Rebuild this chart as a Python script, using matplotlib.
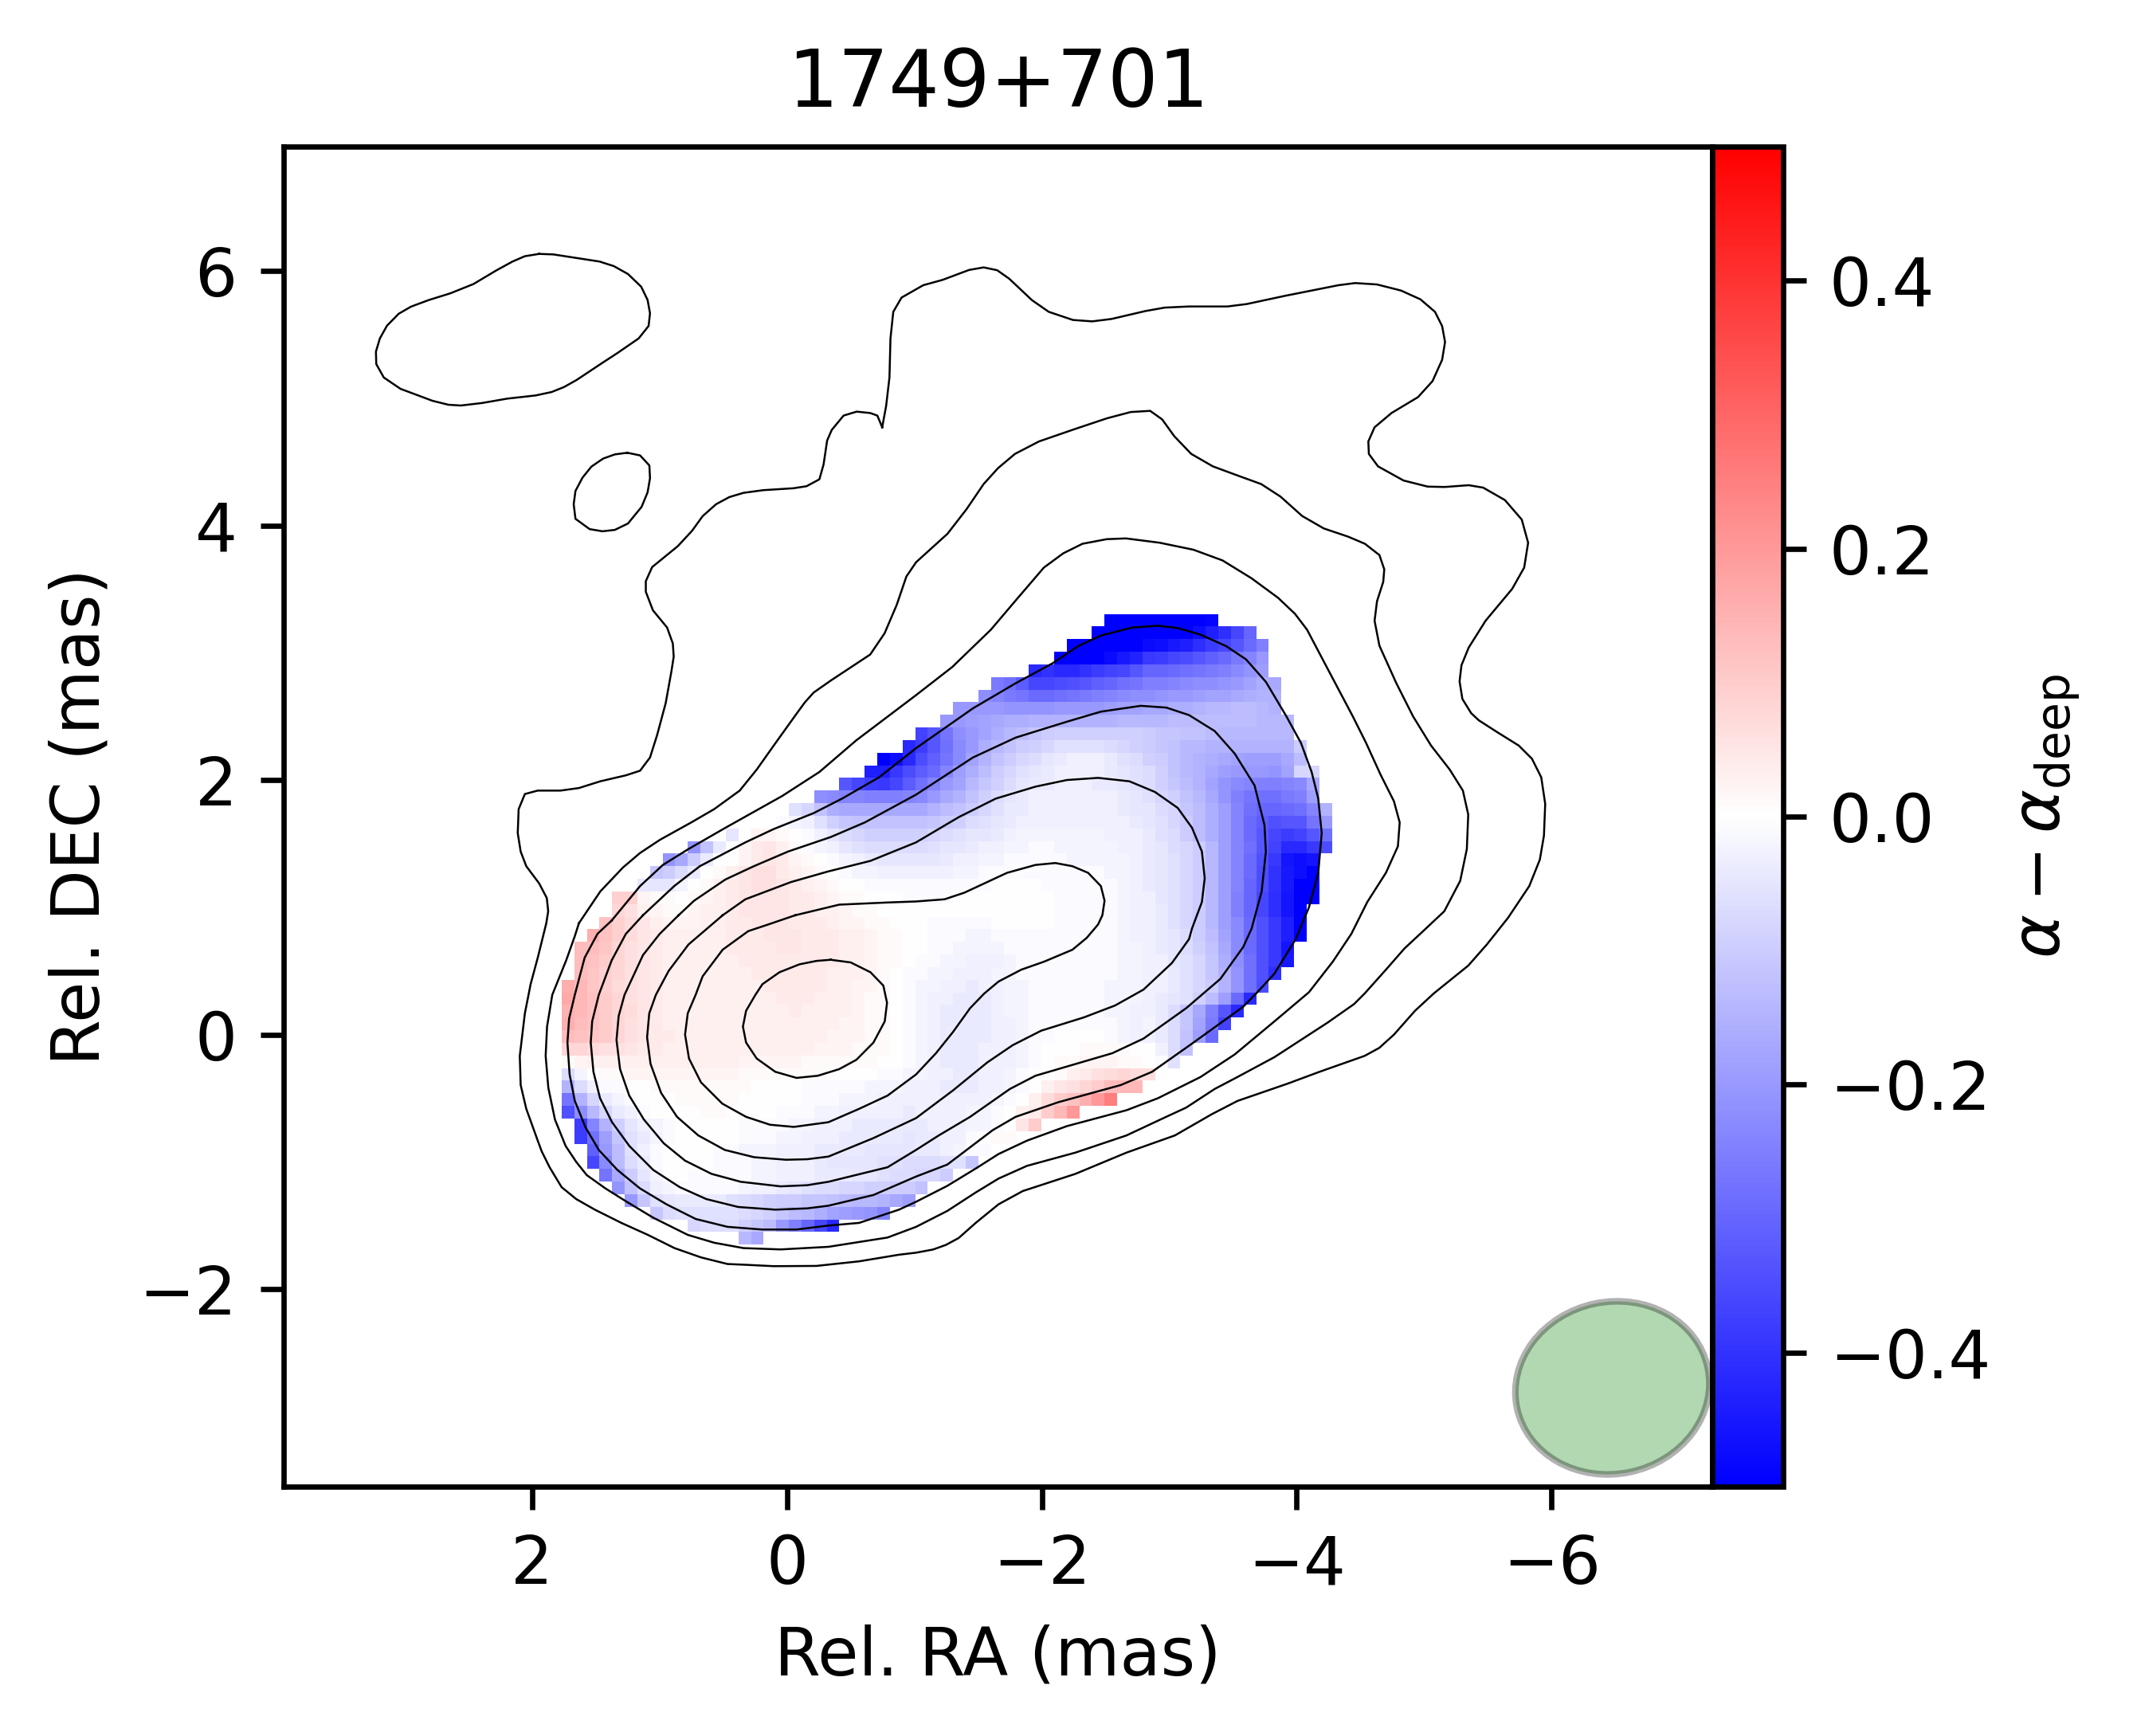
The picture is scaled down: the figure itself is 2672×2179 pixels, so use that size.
import matplotlib
matplotlib.use("Agg")
import matplotlib.pyplot as plt
import numpy as np
from matplotlib.patches import Ellipse

title = "1749+701"
x_ticks = [2, 0, -2, -4, -6]
y_ticks = [-2, 0, 2, 4, 6]
cbar_ticks = [-0.4, -0.2, 0.0, 0.2, 0.4]

# map cells, 0.0991 mas wide, first column at the left, first row on top
n_cols = 61
n_rows = 50
x_first = 1.769
y_first = 3.305
cell = 0.0991

# first column of every row
row_start = [43, 42, 40, 39, 37, 34, 33, 31, 30, 28, 27, 25, 24, 22, 20, 18, 17, 13, 10, 8,
             7, 6, 4, 4, 3, 2, 1, 1, 1, 0, 0, 0, 0, 0, 0, 0, 0, 0, 0, 0,
             1, 1, 2, 2, 3, 4, 5, 7, 10, 14]

# alpha - alpha_deep for every row, in hundredths
row_vals = [
    [-50, -50, -50, -50, -50, -50, -50, -50, -49],
    [-50, -50, -50, -50, -50, -50, -50, -50, -47, -44, -41, -36, -30],
    [-50, -50, -50, -50, -50, -50, -48, -47, -45, -44, -41, -38, -36, -33, -29, -25],
    [-50, -50, -50, -50, -48, -45, -43, -39, -38, -36, -35, -33, -31, -29, -26, -24, -20],
    [-42, -40, -42, -42, -40, -38, -37, -36, -33, -30, -30, -29, -28, -27, -26, -25, -23, -21, -19],
    [-26, -28, -32, -36, -36, -35, -34, -33, -31, -30, -28, -27, -25, -25, -24, -23, -22, -22, -21, -20, -18, -16, -17],
    [-22, -24, -26, -27, -29, -29, -28, -27, -26, -25, -24, -23, -22, -22, -21, -20, -20, -19, -18, -18, -17, -16, -15, -15],
    [-20, -20, -20, -20, -21, -21, -21, -21, -20, -20, -20, -20, -19, -18, -18, -17, -17, -16, -16, -15, -14, -14, -13, -13, -14, -15],
    [-20, -20, -19, -18, -17, -16, -16, -15, -15, -15, -15, -15, -15, -15, -14, -14, -14, -14, -13, -13, -13, -13, -13, -13, -13, -14, -14, -14],
    [-37, -33, -27, -22, -20, -18, -16, -14, -13, -11, -10, -9, -9, -9, -9, -9, -9, -9, -10, -11, -11, -12, -12, -13, -14, -14, -14, -14, -14, -14],
    [-42, -38, -33, -28, -23, -20, -16, -14, -12, -10, -9, -8, -6, -6, -6, -6, -7, -8, -9, -10, -11, -12, -14, -14, -15, -15, -15, -15, -15, -15, -15, -10],
    [-50, -47, -42, -35, -31, -27, -23, -18, -15, -12, -10, -8, -7, -5, -4, -3, -3, -3, -4, -6, -7, -9, -10, -12, -14, -15, -16, -17, -18, -19, -19, -19, -17, -13],
    [-44, -44, -39, -35, -32, -29, -24, -19, -16, -13, -10, -8, -6, -5, -4, -3, -3, -3, -3, -4, -5, -6, -7, -9, -12, -14, -15, -17, -19, -20, -20, -20, -21, -18, -8, -8],
    [-33, -36, -38, -39, -36, -32, -28, -24, -20, -18, -14, -11, -9, -7, -5, -4, -4, -3, -3, -3, -4, -4, -5, -6, -7, -9, -11, -13, -15, -18, -21, -23, -24, -25, -25, -24, -23, -17],
    [-22, -23, -24, -24, -25, -25, -25, -24, -23, -20, -17, -15, -12, -9, -7, -5, -4, -3, -3, -3, -3, -3, -3, -3, -4, -5, -6, -8, -9, -12, -14, -17, -21, -25, -27, -28, -28, -26, -25, -19],
    [-6, -8, -12, -16, -17, -17, -17, -17, -17, -17, -17, -15, -13, -12, -10, -8, -6, -4, -4, -3, -3, -3, -3, -3, -3, -3, -4, -5, -5, -7, -8, -11, -13, -16, -19, -24, -28, -30, -30, -29, -28, -24, -15],
    [-1, -2, -3, -6, -9, -11, -12, -12, -12, -12, -12, -12, -11, -10, -9, -7, -6, -5, -4, -3, -3, -3, -3, -3, -3, -3, -3, -3, -4, -5, -6, -8, -10, -13, -16, -19, -24, -29, -32, -34, -33, -33, -27, -20],
    [-5, 0, 2, 2, 1, 0, -1, -3, -5, -7, -8, -9, -9, -9, -9, -9, -8, -7, -6, -5, -5, -4, -3, -2, -2, -2, -2, -2, -2, -2, -3, -3, -3, -4, -6, -7, -10, -13, -16, -19, -24, -29, -33, -36, -38, -37, -33, -28],
    [-21, -12, -4, 0, 2, 4, 5, 3, 1, -1, -2, -3, -5, -6, -7, -7, -7, -7, -7, -6, -5, -5, -4, -3, -3, -2, -2, -1, -1, -2, -2, -2, -2, -2, -3, -3, -4, -5, -7, -8, -10, -14, -19, -24, -28, -33, -37, -42, -42, -39, -35],
    [-21, -17, -10, -4, 0, 0, 2, 4, 5, 4, 2, 1, 0, -1, -2, -3, -4, -5, -5, -5, -5, -5, -4, -3, -3, -2, -2, -1, -1, -1, -1, -1, -2, -2, -2, -2, -2, -3, -4, -5, -6, -8, -10, -14, -19, -24, -29, -34, -39, -46, -47, -46],
    [-11, -10, -7, -4, 0, 1, 3, 5, 6, 6, 4, 3, 2, 1, 0, -1, -2, -2, -3, -3, -3, -3, -3, -3, -2, -2, -1, -1, -1, -1, -1, -1, -1, -1, -1, -1, -2, -2, -3, -4, -5, -6, -8, -10, -14, -19, -24, -29, -35, -40, -45, -47, -50],
    [-5, -5, -5, -2, 0, 1, 3, 4, 5, 6, 6, 5, 4, 3, 2, 1, 0, 0, -1, -1, -1, -1, -1, -1, -1, -1, -1, -1, 0, 0, 0, 0, -1, -1, -1, -1, -1, -1, -2, -3, -4, -5, -6, -8, -10, -14, -19, -24, -30, -35, -40, -45, -50, -50],
    [9, 9, 2, 1, 1, 0, 1, 2, 3, 4, 5, 5, 5, 5, 4, 4, 3, 2, 1, 1, 0, 0, 0, -1, -1, -1, -1, 0, 0, 0, 0, 0, 0, 0, 0, -1, -1, -1, -1, -1, -2, -3, -3, -5, -6, -8, -10, -14, -19, -25, -30, -36, -41, -46, -50, -50],
    [8, 6, 3, 2, 1, 1, 2, 3, 3, 4, 5, 5, 5, 5, 4, 4, 3, 3, 2, 1, 1, 0, 0, 0, 0, 0, 0, 0, 0, 0, 0, 0, 0, 0, 0, -1, -1, -1, -1, -1, -2, -3, -3, -4, -6, -8, -10, -14, -19, -25, -30, -36, -41, -46, -50],
    [12, 9, 7, 5, 3, 2, 2, 2, 3, 3, 4, 4, 5, 5, 5, 4, 4, 4, 3, 2, 2, 1, 1, 0, 0, 0, -1, -1, -1, -1, -1, 0, 0, 0, 0, 0, -1, -1, -1, -1, -1, -2, -3, -3, -4, -6, -8, -10, -14, -19, -23, -29, -34, -39, -44, -50],
    [16, 12, 9, 7, 5, 4, 3, 3, 3, 3, 3, 4, 4, 4, 5, 5, 5, 4, 4, 4, 3, 3, 2, 1, 1, 0, 0, -1, -1, -1, -2, -2, -1, -1, -1, -1, -1, -1, -1, -1, -1, -1, -2, -3, -3, -4, -5, -7, -10, -13, -18, -23, -29, -34, -39, -44, -50],
    [13, 13, 11, 8, 6, 5, 4, 3, 3, 3, 3, 3, 4, 4, 4, 4, 5, 5, 4, 4, 4, 3, 3, 2, 1, 1, 0, 0, -1, -1, -2, -2, -2, -2, -1, -1, -1, -1, -1, -1, -1, -1, -1, -2, -2, -3, -4, -5, -7, -9, -12, -17, -23, -29, -34, -39, -46],
    [13, 12, 10, 8, 6, 5, 4, 3, 3, 3, 3, 3, 3, 4, 4, 4, 4, 4, 4, 4, 4, 3, 3, 2, 1, 1, 0, -1, -1, -2, -2, -3, -3, -3, -2, -1, -1, -1, -1, -1, -1, -1, -1, -2, -2, -3, -3, -5, -6, -8, -11, -16, -22, -28, -34, -39, -45],
    [13, 11, 9, 8, 6, 5, 4, 3, 3, 3, 3, 3, 3, 3, 4, 4, 4, 4, 4, 4, 3, 3, 3, 2, 1, 0, -1, -1, -2, -2, -3, -3, -3, -2, -2, -1, -1, -1, -1, -1, -1, -1, -1, -2, -2, -3, -3, -4, -6, -8, -11, -15, -21, -28, -34, -41],
    [16, 14, 11, 9, 7, 6, 5, 4, 3, 3, 3, 3, 3, 3, 3, 3, 4, 4, 4, 4, 4, 3, 3, 2, 2, 1, 0, -1, -2, -2, -3, -3, -4, -3, -3, -2, -2, -1, -1, -1, -1, -1, -1, -2, -2, -2, -3, -3, -4, -6, -8, -10, -15, -21, -28, -35],
    [17, 14, 12, 10, 8, 6, 5, 4, 3, 3, 3, 3, 3, 3, 3, 3, 3, 4, 4, 4, 3, 3, 3, 2, 1, 1, 0, -1, -2, -3, -3, -4, -4, -4, -3, -2, -2, -1, -1, -1, -1, -1, -1, -2, -2, -2, -3, -4, -5, -6, -9, -13, -19, -29, -42],
    [15, 14, 12, 10, 8, 7, 5, 4, 3, 3, 3, 3, 3, 3, 3, 3, 3, 3, 4, 3, 3, 3, 3, 2, 1, 1, 0, -1, -2, -3, -4, -4, -4, -4, -3, -2, -2, -1, -1, -1, -1, -1, -1, -2, -2, -3, -3, -4, -7, -11, -17, -25, -33, -42],
    [16, 13, 12, 10, 8, 6, 5, 4, 3, 3, 3, 3, 3, 3, 3, 3, 3, 3, 3, 3, 3, 3, 2, 2, 1, 1, 0, -1, -2, -3, -4, -4, -4, -4, -3, -3, -2, -1, -1, -1, -1, -1, -1, -1, -2, -3, -2, -4, -7, -11, -18, -26, -37],
    [13, 12, 11, 10, 8, 6, 5, 4, 4, 3, 3, 3, 3, 3, 3, 3, 3, 3, 3, 3, 3, 2, 2, 2, 1, 1, 0, -1, -2, -3, -4, -4, -4, -4, -3, -3, -2, -1, -1, 0, 0, 0, 0, -1, -2, -3, -3, -4, -7, -12, -19, -29],
    [8, 8, 7, 6, 6, 5, 4, 4, 3, 3, 3, 3, 3, 3, 3, 3, 3, 3, 3, 3, 2, 2, 2, 1, 1, 1, 0, -1, -2, -3, -4, -4, -4, -3, -3, -3, -2, -1, 0, 0, 0, 1, 1, 1, 1, 0, 0, -3, -7, -12],
    [1, 2, 3, 3, 3, 3, 3, 3, 3, 3, 3, 3, 3, 3, 2, 2, 2, 2, 2, 1, 1, 1, 1, 1, 1, 0, 0, -1, -2, -3, -4, -4, -4, -3, -3, -3, -2, -1, 0, 1, 1, 2, 2, 2, 1, 1, 0, -1, -6],
    [-7, -2, 0, 1, 1, 2, 2, 2, 2, 2, 2, 2, 2, 2, 1, 1, 1, 1, 1, 1, 1, 0, 0, 0, 0, -1, -1, -2, -2, -3, -3, -4, -4, -3, -3, -2, -1, 0, 0, 1, 3, 4, 6, 7, 8, 7, 7, 0],
    [-15, -7, -3, -1, -1, 0, 0, 1, 1, 1, 1, 1, 1, 1, 1, 0, 0, 0, 0, -1, -1, -1, -1, -1, -2, -2, -2, -3, -3, -3, -4, -4, -4, -3, -3, -2, -1, 0, 3, 5, 6, 8, 10, 13, 14, 14],
    [-27, -15, -8, -4, -2, -1, 0, 0, 0, 1, 1, 1, 1, 1, 0, 0, 0, 0, 0, -1, -1, -1, -2, -2, -2, -3, -3, -3, -3, -3, -3, -3, -3, -3, -2, -1, 0, 3, 7, 10, 12, 16, 20, 25],
    [-34, -22, -14, -8, -4, -3, -1, 0, 0, 0, 0, 1, 1, 0, 0, 0, 0, -1, -1, -1, -2, -2, -3, -3, -3, -3, -3, -4, -3, -3, -3, -3, -2, -2, -1, 0, 3, 4, 10, 14, 20],
    [-38, -24, -15, -9, -5, -3, -2, -1, 0, 0, 0, 0, 0, -1, -1, -1, -1, -2, -2, -3, -3, -3, -4, -4, -4, -4, -4, -4, -3, -3, -3, -2, -2, -1, 0, 5, 10],
    [-38, -28, -19, -11, -6, -4, -2, -1, 0, 0, 0, 0, 0, -1, -1, -1, -2, -2, -3, -3, -3, -4, -4, -4, -4, -4, -5, -4, -4, -3, -3, -1, 0, 1, 1],
    [-31, -20, -13, -6, -3, -1, 0, 0, 0, 0, -1, -1, -2, -2, -2, -3, -3, -3, -4, -4, -4, -4, -5, -5, -5, -5, -4, -4, -3, -2, -1, -1],
    [-36, -23, -13, -7, -4, -1, 0, 0, 0, 0, -1, -1, -1, -2, -2, -3, -3, -3, -4, -5, -5, -5, -5, -6, -6, -7, -7, -7, -6, -6, -11],
    [-27, -17, -10, -5, -2, 0, 0, -1, -1, -1, -1, -1, -2, -2, -3, -3, -3, -4, -4, -4, -5, -5, -6, -7, -7, -8, -8, -10],
    [-21, -12, -7, -3, -2, -1, -1, -1, -1, -1, -2, -3, -3, -4, -5, -6, -7, -7, -8, -8, -9, -9, -10, -10, -12],
    [-20, -11, -6, -5, -4, -4, -4, -4, -6, -7, -8, -9, -10, -10, -11, -11, -12, -13, -14, -14, -15, -17, -19],
    [-11, -7, -6, -6, -6, -6, -6, -7, -8, -9, -11, -13, -14, -16, -18, -19, -20, -21, -24],
    [-8, -7, -7, -7, -9, -11, -13, -20, -25, -30, -36, -42],
    [-14, -17],
]

# contour lines, Rel. RA and Rel. DEC in mas
blob_top = [(1.945, 6.133), (1.834, 6.129), (1.471, 6.073), (1.359, 6.037), (1.248, 5.975), (1.144, 5.875),
            (1.094, 5.771), (1.075, 5.667), (1.086, 5.567), (1.164, 5.469), (1.331, 5.354), (1.443, 5.281),
            (1.652, 5.142), (1.75, 5.087), (1.847, 5.048), (1.973, 5.021), (2.196, 4.996), (2.391, 4.962),
            (2.559, 4.942), (2.657, 4.948), (2.782, 4.979), (3.033, 5.073), (3.164, 5.162), (3.223, 5.267),
            (3.226, 5.365), (3.195, 5.469), (3.139, 5.569), (3.047, 5.663), (2.95, 5.719), (2.81, 5.771),
            (2.643, 5.823), (2.461, 5.896), (2.28, 6.004), (2.154, 6.073), (2.057, 6.115)]

blob_small = [(1.253, 4.571), (1.153, 4.55), (1.08, 4.471), (1.075, 4.371), (1.094, 4.26), (1.141, 4.146),
              (1.248, 4.015), (1.351, 3.965), (1.448, 3.954), (1.549, 3.971), (1.66, 4.052), (1.674, 4.167),
              (1.66, 4.271), (1.605, 4.375), (1.535, 4.462), (1.443, 4.525), (1.351, 4.558)]

contour_1 = [(-0.747, 4.771), (-0.778, 4.939), (-0.804, 5.162), (-0.812, 5.469), (-0.834, 5.678), (-0.899, 5.79),
             (-1.069, 5.887), (-1.221, 5.929), (-1.429, 6.007), (-1.543, 6.027), (-1.649, 6.005), (-1.744, 5.938),
             (-1.922, 5.77), (-2.054, 5.678), (-2.244, 5.614), (-2.395, 5.603), (-2.547, 5.622), (-2.812, 5.684),
             (-2.963, 5.711), (-3.153, 5.72), (-3.456, 5.72), (-3.607, 5.739), (-3.91, 5.804), (-4.327, 5.887),
             (-4.459, 5.904), (-4.63, 5.893), (-4.819, 5.845), (-4.971, 5.776), (-5.085, 5.678), (-5.141, 5.566),
             (-5.164, 5.441), (-5.141, 5.301), (-5.066, 5.134), (-4.952, 5.008), (-4.744, 4.883), (-4.611, 4.771),
             (-4.562, 4.66), (-4.566, 4.562), (-4.638, 4.464), (-4.838, 4.353), (-5.028, 4.305), (-5.16, 4.302),
             (-5.35, 4.316), (-5.463, 4.297), (-5.634, 4.199), (-5.766, 4.046), (-5.816, 3.864), (-5.785, 3.669),
             (-5.691, 3.502), (-5.482, 3.251), (-5.35, 3.041), (-5.293, 2.902), (-5.278, 2.776), (-5.3, 2.637),
             (-5.369, 2.525), (-5.429, 2.469), (-5.575, 2.375), (-5.742, 2.271), (-5.846, 2.167), (-5.919, 2.021),
             (-5.95, 1.813), (-5.94, 1.563), (-5.908, 1.375), (-5.825, 1.167), (-5.658, 0.917), (-5.492, 0.708),
             (-5.346, 0.542), (-5.075, 0.323), (-4.929, 0.188), (-4.763, 0.0), (-4.648, -0.104), (-4.533, -0.167),
             (-4.179, -0.292), (-3.929, -0.385), (-3.535, -0.521), (-3.334, -0.625), (-3.044, -0.792), (-2.664, -0.927),
             (-2.263, -1.094), (-1.85, -1.229), (-1.66, -1.333), (-1.481, -1.479), (-1.347, -1.598), (-1.247, -1.652),
             (-1.147, -1.688), (-1.013, -1.713), (-0.879, -1.729), (-0.566, -1.781), (-0.231, -1.817), (0.104, -1.819),
             (0.327, -1.808), (0.467, -1.802), (0.675, -1.75), (0.883, -1.677), (1.092, -1.573), (1.3, -1.479),
             (1.508, -1.375), (1.654, -1.292), (1.769, -1.198), (1.863, -1.042), (1.925, -0.917), (1.956, -0.833),
             (2.046, -0.583), (2.09, -0.396), (2.097, -0.167), (2.057, 0.167), (2.012, 0.396), (1.956, 0.604),
             (1.889, 0.875), (1.874, 0.969), (1.885, 1.073), (1.945, 1.188), (2.046, 1.323), (2.09, 1.438),
             (2.113, 1.583), (2.106, 1.771), (2.057, 1.89), (1.956, 1.917), (1.778, 1.917), (1.633, 1.937),
             (1.465, 1.99), (1.264, 2.037), (1.153, 2.073), (1.075, 2.177), (1.019, 2.354), (0.952, 2.604),
             (0.907, 2.854), (0.889, 2.969), (0.896, 3.073), (0.941, 3.198), (1.052, 3.333), (1.108, 3.479),
             (1.108, 3.562), (1.058, 3.673), (0.857, 3.837), (0.745, 3.958), (0.662, 4.073), (0.556, 4.167),
             (0.452, 4.223), (0.341, 4.256), (0.187, 4.277), (-0.05, 4.292), (-0.153, 4.308), (-0.254, 4.362),
             (-0.287, 4.479), (-0.315, 4.667), (-0.351, 4.75), (-0.444, 4.863), (-0.547, 4.894), (-0.653, 4.883),
             (-0.709, 4.863)]

contour_2 = [(1.633, 0.875), (1.465, 1.125), (1.287, 1.313), (1.153, 1.427), (0.996, 1.531), (0.751, 1.667),
             (0.572, 1.771), (0.371, 1.917), (0.237, 2.083), (0.104, 2.271), (-0.075, 2.521), (-0.14, 2.61),
             (-0.209, 2.687), (-0.343, 2.781), (-0.653, 2.986), (-0.766, 3.153), (-0.861, 3.376), (-0.937, 3.599),
             (-1.013, 3.711), (-1.259, 3.934), (-1.41, 4.129), (-1.543, 4.325), (-1.656, 4.45), (-1.789, 4.562),
             (-1.978, 4.66), (-2.244, 4.752), (-2.509, 4.841), (-2.698, 4.891), (-2.85, 4.9), (-2.944, 4.833),
             (-3.039, 4.701), (-3.172, 4.562), (-3.342, 4.464), (-3.531, 4.394), (-3.721, 4.325), (-3.872, 4.227),
             (-4.043, 4.074), (-4.213, 3.976), (-4.403, 3.912), (-4.535, 3.856), (-4.649, 3.767), (-4.687, 3.655),
             (-4.679, 3.557), (-4.63, 3.404), (-4.611, 3.251), (-4.649, 3.055), (-4.781, 2.762), (-4.913, 2.5),
             (-5.054, 2.271), (-5.2, 2.083), (-5.304, 1.917), (-5.346, 1.729), (-5.335, 1.458), (-5.283, 1.208),
             (-5.158, 0.969), (-4.992, 0.813), (-4.846, 0.677), (-4.7, 0.51), (-4.533, 0.323), (-4.45, 0.24),
             (-4.242, 0.094), (-3.825, -0.177), (-3.535, -0.333), (-3.356, -0.427), (-3.133, -0.573), (-2.954, -0.656),
             (-2.664, -0.792), (-2.263, -0.927), (-1.883, -1.031), (-1.66, -1.131), (-1.481, -1.24), (-1.258, -1.385),
             (-1.013, -1.51), (-0.789, -1.594), (-0.325, -1.667), (0.05, -1.6875), (0.342, -1.677), (0.571, -1.635),
             (0.779, -1.573), (1.05, -1.438), (1.258, -1.313), (1.425, -1.208), (1.571, -1.104), (1.654, -1.0),
             (1.737, -0.875), (1.821, -0.667), (1.873, -0.417), (1.894, -0.167), (1.883, 0.0625), (1.842, 0.3125),
             (1.733, 0.583), (1.666, 0.771)]

contour_3 = [(1.376, 0.896), (1.153, 1.167), (0.974, 1.333), (0.773, 1.458), (0.483, 1.625), (0.037, 1.875),
             (-0.254, 2.063), (-0.544, 2.312), (-1.013, 2.667), (-1.297, 2.888), (-1.6, 3.181), (-1.789, 3.404),
             (-2.016, 3.669), (-2.168, 3.781), (-2.319, 3.856), (-2.509, 3.892), (-2.66, 3.898), (-2.925, 3.864),
             (-3.19, 3.809), (-3.418, 3.725), (-3.645, 3.585), (-3.853, 3.432), (-3.986, 3.306), (-4.081, 3.181),
             (-4.213, 2.93), (-4.44, 2.5), (-4.544, 2.292), (-4.658, 2.042), (-4.763, 1.833), (-4.808, 1.667),
             (-4.794, 1.479), (-4.7, 1.271), (-4.554, 1.042), (-4.429, 0.792), (-4.283, 0.573), (-4.096, 0.333),
             (-3.825, 0.104), (-3.513, -0.156), (-3.245, -0.333), (-2.91, -0.5), (-2.664, -0.594), (-2.196, -0.719),
             (-1.883, -0.833), (-1.66, -0.938), (-1.481, -1.052), (-1.258, -1.188), (-1.013, -1.313), (-0.879, -1.375),
             (-0.566, -1.479), (-0.325, -1.5), (-0.075, -1.531), (0.196, -1.531), (0.467, -1.51), (0.717, -1.448),
             (0.946, -1.333), (1.154, -1.208), (1.331, -1.063), (1.477, -0.906), (1.581, -0.729), (1.665, -0.521),
             (1.706, -0.313), (1.723, -0.063), (1.71, 0.125), (1.665, 0.3125), (1.588, 0.604), (1.487, 0.792)]

contour_4 = [(1.13, 0.938), (0.885, 1.167), (0.684, 1.323), (0.327, 1.51), (0.104, 1.615), (-0.209, 1.74),
             (-0.432, 1.854), (-0.722, 2.021), (-1.0125, 2.25), (-1.459, 2.563), (-1.794, 2.76), (-2.084, 2.917),
             (-2.285, 3.052), (-2.463, 3.135), (-2.709, 3.198), (-2.91, 3.212), (-3.066, 3.194), (-3.245, 3.142),
             (-3.446, 3.052), (-3.602, 2.948), (-3.758, 2.771), (-3.919, 2.5), (-4.033, 2.292), (-4.117, 2.063),
             (-4.169, 1.854), (-4.196, 1.583), (-4.169, 1.271), (-4.096, 1.0), (-3.992, 0.75), (-3.825, 0.479),
             (-3.691, 0.333), (-3.58, 0.219), (-3.189, -0.063), (-2.865, -0.292), (-2.62, -0.396), (-2.129, -0.531),
             (-1.794, -0.646), (-1.615, -0.75), (-1.258, -1.021), (-1.013, -1.115), (-0.678, -1.26), (-0.325, -1.344),
             (-0.158, -1.365), (0.092, -1.375), (0.383, -1.354), (0.633, -1.292), (0.842, -1.198), (1.05, -1.063),
             (1.237, -0.875), (1.373, -0.688), (1.467, -0.5), (1.519, -0.292), (1.54, -0.063), (1.529, 0.104),
             (1.477, 0.3125), (1.376, 0.583), (1.264, 0.792)]

contour_5 = [(0.851, 0.9375), (0.729, 1.052), (0.483, 1.219), (0.26, 1.323), (-0.008, 1.438), (-0.343, 1.552),
             (-0.611, 1.667), (-1.0125, 1.885), (-1.459, 2.177), (-1.794, 2.333), (-2.196, 2.458), (-2.463, 2.537),
             (-2.776, 2.583), (-2.977, 2.569), (-3.155, 2.51), (-3.356, 2.385), (-3.513, 2.208), (-3.669, 1.958),
             (-3.747, 1.646), (-3.758, 1.438), (-3.725, 1.125), (-3.646, 0.833), (-3.58, 0.688), (-3.401, 0.438),
             (-3.133, 0.208), (-2.798, -0.031), (-2.553, -0.146), (-1.95, -0.323), (-1.749, -0.427), (-1.437, -0.646),
             (-1.191, -0.792), (-1.0125, -0.906), (-0.789, -1.042), (-0.325, -1.156), (-0.158, -1.183), (0.05, -1.192),
             (0.363, -1.156), (0.592, -1.094), (0.8, -0.99), (0.967, -0.854), (1.123, -0.667), (1.238, -0.479),
             (1.31, -0.271), (1.338, -0.042), (1.321, 0.146), (1.275, 0.3125), (1.13, 0.625), (1.0, 0.79)]

contour_6 = [(0.505, 0.9375), (0.327, 1.063), (-0.03, 1.198), (-0.32, 1.281), (-0.655, 1.365), (-1.0125, 1.51),
             (-1.347, 1.708), (-1.638, 1.854), (-1.95, 1.948), (-2.196, 2.0), (-2.441, 2.017), (-2.687, 1.99),
             (-2.888, 1.906), (-3.066, 1.781), (-3.178, 1.625), (-3.256, 1.438), (-3.278, 1.229), (-3.256, 1.042),
             (-3.178, 0.833), (-3.155, 0.75), (-3.021, 0.563), (-2.798, 0.354), (-2.575, 0.229), (-2.329, 0.135),
             (-1.995, 0.031), (-1.771, -0.083), (-1.571, -0.219), (-1.303, -0.438), (-1.0125, -0.656), (-0.678, -0.813),
             (-0.325, -0.958), (-0.158, -0.979), (0.008, -0.983), (0.258, -0.963), (0.488, -0.906), (0.696, -0.792),
             (0.863, -0.646), (0.988, -0.458), (1.071, -0.229), (1.098, -0.021), (1.081, 0.167), (1.029, 0.3125),
             (0.929, 0.5), (0.773, 0.708)]

contour_7 = [(-0.064, 0.9375), (-0.41, 1.021), (-0.789, 1.038), (-1.0125, 1.046), (-1.236, 1.063), (-1.392, 1.115),
             (-1.727, 1.271), (-1.95, 1.333), (-2.106, 1.348), (-2.24, 1.323), (-2.363, 1.271), (-2.463, 1.167),
             (-2.492, 1.052), (-2.475, 0.938), (-2.441, 0.865), (-2.352, 0.76), (-2.24, 0.667), (-2.017, 0.573),
             (-1.838, 0.51), (-1.66, 0.417), (-1.548, 0.323), (-1.437, 0.208), (-1.303, 0.021), (-1.169, -0.146),
             (-1.0125, -0.313), (-0.789, -0.479), (-0.566, -0.583), (-0.325, -0.688), (-0.054, -0.725), (0.133, -0.708),
             (0.321, -0.646), (0.508, -0.542), (0.675, -0.375), (0.769, -0.188), (0.8, 0.0), (0.779, 0.167),
             (0.717, 0.3125), (0.662, 0.458), (0.505, 0.667), (0.304, 0.813), (0.148, 0.865)]

contour_8 = [(-0.343, 0.588), (-0.5, 0.567), (-0.655, 0.49), (-0.756, 0.385), (-0.785, 0.25), (-0.767, 0.104),
             (-0.678, -0.063), (-0.544, -0.198), (-0.41, -0.271), (-0.242, -0.323), (-0.075, -0.34), (0.092, -0.292),
             (0.238, -0.1875), (0.321, -0.0625), (0.346, 0.0625), (0.321, 0.1875), (0.248, 0.3125), (0.193, 0.396),
             (0.059, 0.49), (-0.097, 0.552), (-0.231, 0.579)]

all_contours = [blob_top, blob_small, contour_1, contour_2, contour_3, contour_4,
                contour_5, contour_6, contour_7, contour_8]

# beam
beam_x = -6.477
beam_y = -2.775
beam_w = 1.53
beam_h = 1.352
beam_angle = -12

W, H = 2672, 2179
fig = plt.figure(figsize=(W / 600, H / 600), dpi=600)
left, right, top, bottom = 356, 2148.5, 184, 1865.7
ax = fig.add_axes([left / W, 1 - bottom / H, (right - left) / W, (bottom - top) / H])
cax = fig.add_axes([right / W, 1 - bottom / H, 89 / W, (bottom - top) / H])

grid = np.full((n_rows, n_cols), np.nan)
for r, vals in enumerate(row_vals):
    start = row_start[r]
    for i, v in enumerate(vals):
        grid[r, start + i] = v / 100

x_edges = x_first - cell * np.arange(n_cols + 1)
y_edges = y_first - cell * np.arange(n_rows + 1)
mesh = ax.pcolormesh(x_edges, y_edges, np.ma.masked_invalid(grid), cmap="bwr", vmin=-0.5, vmax=0.5)

for line in all_contours:
    pts = np.array(line + [line[0]])
    ax.plot(pts[:, 0], pts[:, 1], color="black", linewidth=0.3)

ax.add_patch(Ellipse((beam_x, beam_y), beam_w, beam_h, angle=beam_angle,
                     facecolor="green", edgecolor="black", alpha=0.3))

ax.set_xlim(3.95, -7.258)
ax.set_ylim(-3.549, 6.976)
ax.set_xticks(x_ticks)
ax.set_yticks(y_ticks)
ax.set_xlabel("Rel. RA (mas)")
ax.set_ylabel("Rel. DEC (mas)")
ax.set_title(title)

cbar = fig.colorbar(mesh, cax=cax)
cbar.set_ticks(cbar_ticks)
cbar.set_label(r"$\alpha - \alpha_{\mathrm{deep}}$")

fig.savefig("out.png", dpi=600)
